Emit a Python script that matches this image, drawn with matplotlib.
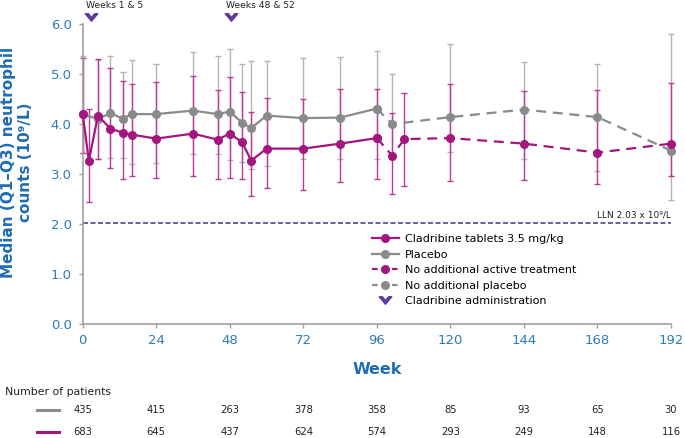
import matplotlib
matplotlib.use("Agg")
import matplotlib.pyplot as plt
import matplotlib.transforms as mtransforms
from matplotlib.lines import Line2D
from matplotlib.path import Path

# cladribine, core study (solid) and follow-up (dashed)
weeks_c = [0, 2, 5, 9, 13, 16, 24, 36, 44, 48, 52, 55, 60, 72, 84, 96]
med_c = [4.20, 3.27, 4.17, 3.91, 3.83, 3.79, 3.71, 3.81, 3.69, 3.81, 3.64, 3.27, 3.51, 3.51, 3.61, 3.72]
q1_c = [3.42, 2.45, 3.30, 3.12, 2.91, 2.96, 2.93, 2.96, 2.90, 2.92, 2.91, 2.57, 2.73, 2.69, 2.85, 2.91]
q3_c = [5.32, 4.30, 5.30, 5.13, 4.87, 4.80, 4.84, 4.97, 4.69, 4.95, 4.65, 4.25, 4.53, 4.50, 4.71, 4.70]

weeks_cf = [101, 105, 120, 144, 168, 192]
med_cf = [3.37, 3.70, 3.72, 3.61, 3.43, 3.61]
q1_cf = [2.61, 2.77, 2.87, 2.89, 2.81, 2.97]
q3_cf = [4.23, 4.62, 4.80, 4.67, 4.69, 4.83]

# placebo
weeks_p = [0, 5, 9, 13, 16, 24, 36, 44, 48, 52, 55, 60, 72, 84, 96]
med_p = [4.20, 4.10, 4.22, 4.11, 4.20, 4.20, 4.27, 4.20, 4.25, 4.03, 3.92, 4.17, 4.12, 4.13, 4.31]
q1_p = [3.42, 3.30, 3.32, 3.32, 3.20, 3.22, 3.41, 3.41, 3.29, 3.25, 3.10, 3.17, 3.30, 3.31, 3.31]
q3_p = [5.36, 5.28, 5.36, 5.05, 5.29, 5.21, 5.45, 5.37, 5.51, 5.20, 5.27, 5.27, 5.33, 5.35, 5.47]

weeks_pf = [101, 120, 144, 168, 192]
med_pf = [4.00, 4.14, 4.29, 4.14, 3.47]
q1_pf = [3.30, 3.45, 3.31, 3.06, 2.49]
q3_pf = [5.01, 5.60, 5.25, 5.21, 5.80]

lln = 2.03
admin_weeks = [2.7, 48.4]
admin_labels = ["Weeks 1 & 5", "Weeks 48 & 52"]

n_weeks = [0, 24, 48, 72, 96, 120, 144, 168, 192]
n_placebo = [435, 415, 263, 378, 358, 85, 93, 65, 30]
n_clad = [683, 645, 437, 624, 574, 293, 249, 148, 116]

MAG = "#a3157f"
MAG_EB = "#bb3a97"
GRY = "#8a8a8a"
GRY_EB = "#b4b4b4"
PURP = "#5a3c98"
BLUE = "#2b7bbd"
BLUE_D = "#1e6cb3"

W, H = 685, 438
fig = plt.figure(figsize=(W / 100, H / 100), dpi=100)
ax = fig.add_axes([82.7 / W, 1 - 324.3 / H, (671 - 82.7) / W, 300.3 / H])

# chevron pointing down
chev = Path([(-1, 0.6), (-0.5, 0.6), (0, 0.0), (0.5, 0.6), (1, 0.6), (0, -0.6), (-1, 0.6)],
            [Path.MOVETO] + [Path.LINETO] * 5 + [Path.CLOSEPOLY])


def err(m, lo, hi):
    return [[a - b for a, b in zip(m, lo)], [b - a for a, b in zip(m, hi)]]


eb = dict(fmt="none", elinewidth=1.0, capsize=2.4, capthick=1.0)
for x, m, lo, hi, c, z in [(weeks_p, med_p, q1_p, q3_p, GRY_EB, 2),
                           (weeks_pf, med_pf, q1_pf, q3_pf, GRY_EB, 2),
                           (weeks_c, med_c, q1_c, q3_c, MAG_EB, 2.1),
                           (weeks_cf, med_cf, q1_cf, q3_cf, MAG_EB, 2.1)]:
    cont = ax.errorbar(x, m, yerr=err(m, lo, hi), ecolor=c, zorder=z, **eb)
    for art in cont.lines[1] + cont.lines[2]:
        art.set_clip_on(False)

ln = dict(lw=1.6, marker="o", ms=5.5, clip_on=False)
dash = (0, (4.5, 3))
ax.plot(weeks_p, med_p, color=GRY, zorder=3, **ln)
ax.plot([weeks_p[-1]] + weeks_pf, [med_p[-1]] + med_pf, color=GRY, ls=dash, zorder=3, **ln)
ax.plot(weeks_c, med_c, color=MAG, zorder=3.1, **ln)
ax.plot([weeks_c[-1]] + weeks_cf, [med_c[-1]] + med_cf, color=MAG, ls=dash, zorder=3.1, **ln)

# lower limit of normal
ax.axhline(lln, color=PURP, lw=1.2, ls=(0, (3, 1.5)), zorder=1)
ax.annotate("LLN 2.03 x 10\u2079/L", xy=(192, lln), xytext=(0, 2.5), textcoords="offset points",
            ha="right", va="bottom", fontsize=6.5, color="#222222")

# dosing chevrons
xt = ax.get_xaxis_transform()
ax.plot(admin_weeks, [1.024] * len(admin_weeks), ls="none", marker=chev, ms=9, color=PURP,
        transform=xt, clip_on=False)
for wk, lab in zip(admin_weeks, admin_labels):
    ax.annotate(lab, xy=(wk, 1.024), xycoords=xt, xytext=(-3.6, 7.9), textcoords="offset points",
                ha="left", va="center", fontsize=6.6, color="#222222", annotation_clip=False)

ax.set_xlim(0, 192)
ax.set_ylim(0, 6)
ax.set_xticks(n_weeks)
ax.set_yticks([0, 1, 2, 3, 4, 5, 6])
ax.set_yticklabels([f"{v:.1f}" for v in range(7)])
for s in ["top", "right"]:
    ax.spines[s].set_visible(False)
for s in ["left", "bottom"]:
    ax.spines[s].set_color("#a0a0a0")
    ax.spines[s].set_linewidth(1.2)
ax.tick_params(axis="both", colors="#a0a0a0", labelcolor=BLUE, length=3, width=1, labelsize=9.5)
ax.tick_params(axis="y", pad=5)
ax.tick_params(axis="x", pad=4)

fig.text(17 / W, 1 - 162 / H, "Median (Q1\u2013Q3) neutrophil\ncounts (10\u2079/L)", rotation=90,
         ha="center", va="center", multialignment="center", fontsize=11, fontweight="bold",
         color=BLUE_D, linespacing=1.1)
fig.text(377 / W, 1 - 369 / H, "Week", ha="center", va="center", fontsize=11.5,
         fontweight="bold", color=BLUE_D)

handles = [
    Line2D([], [], color=MAG, lw=1.6, marker="o", ms=5.5),
    Line2D([], [], color=GRY, lw=1.6, marker="o", ms=5.5),
    Line2D([], [], color=MAG, lw=1.6, marker="o", ms=5.5, ls=(0, (2.5, 2))),
    Line2D([], [], color=GRY, lw=1.6, marker="o", ms=5.5, ls=(0, (2.5, 2))),
    Line2D([], [], color=PURP, ls="none", marker=chev, ms=9),
]
labels = ["Cladribine tablets 3.5 mg/kg", "Placebo", "No additional active treatment",
          "No additional placebo", "Cladribine administration"]
fig.legend(handles, labels, loc="upper left", bbox_to_anchor=(372 / W, 1 - 234 / H),
           frameon=False, fontsize=8, handlelength=2.4, handletextpad=0.6,
           labelspacing=0.5, borderpad=0, borderaxespad=0)

# number of patients table
fig.text(5 / W, 1 - 391.7 / H, "Number of patients", ha="left", va="center", fontsize=7.8,
         color="#222222")
bt = mtransforms.blended_transform_factory(ax.transData, fig.transFigure)
for ypx, col, counts in [(410, GRY, n_placebo), (431.7, MAG, n_clad)]:
    yf = 1 - ypx / H
    fig.add_artist(Line2D([36.7 / W, 59.3 / W], [yf, yf], color=col, lw=2.2,
                          transform=fig.transFigure))
    for wk, n in zip(n_weeks, counts):
        fig.text(wk, yf, str(n), transform=bt, ha="center", va="center", fontsize=7.2,
                 color="#222222")

fig.savefig("out.png", dpi=100)
